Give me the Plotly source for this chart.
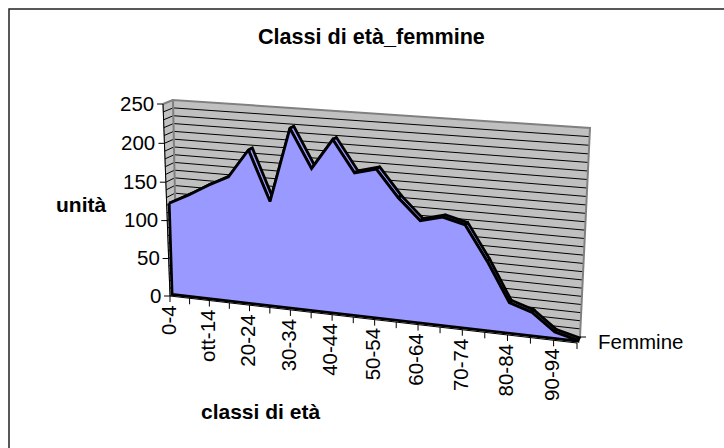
import numpy as np
import plotly.graph_objects as go

W, H = 724, 448
title = "Classi di età_femmine"
y_title = "unità"
x_title = "classi di età"
series_name = "Femmine"
categories = ["0-4", "5-9", "ott-14", "15-19", "20-24", "25-29", "30-34", "35-39", "40-44", "45-49",
              "50-54", "55-59", "60-64", "65-69", "70-74", "75-79", "80-84", "85-89", "90-94", "95-99"]
femmine = [121, 134, 149, 162, 198, 135, 229, 181, 219, 180, 187, 154, 128, 135, 128, 86, 38, 29, 8, 1]
y_ticks = [0, 50, 100, 150, 200, 250]
y_max = 250
grid_step = 10

def solve_h(src, dst):
    A, b = [], []
    for (u, v), (x, y) in zip(src, dst):
        A.append([u, v, 1, 0, 0, 0, -u * x, -v * x]); b.append(x)
        A.append([0, 0, 0, u, v, 1, -u * y, -v * y]); b.append(y)
    s = np.linalg.solve(np.array(A, float), np.array(b, float))
    return np.append(s, 1).reshape(3, 3)

unit = [(0, 0), (1, 0), (0, 1), (1, 1)]
FRONT = solve_h(unit, [(170, 296), (577, 343), (163, 104), (583, 133)])
BACK = solve_h(unit, [(177, 291), (580, 337), (173, 100), (590, 128)])
n = len(categories) - 1

def proj(i, val, depth=0.0):
    p = np.array([i / n, val / y_max, 1.0])
    a = FRONT @ p; a = a[:2] / a[2]
    b = BACK @ p; b = b[:2] / b[2]
    return tuple(a + (b - a) * depth)

fig = go.Figure()

def poly(pts, fill=None, line=None, width=1, closed=True):
    xs = [p[0] for p in pts]; ys = [p[1] for p in pts]
    if closed:
        xs.append(xs[0]); ys.append(ys[0])
    fig.add_trace(go.Scatter(x=xs, y=ys, mode="lines", fill="toself" if fill else None,
                             fillcolor=fill, line=dict(color=line or "rgba(0,0,0,0)", width=width),
                             hoverinfo="skip", showlegend=False))

wall = [proj(0, 0, 1), proj(n, 0, 1), proj(n, y_max, 1), proj(0, y_max, 1)]
side = [proj(0, 0, 0), proj(0, 0, 1), proj(0, y_max, 1), proj(0, y_max, 0)]
poly(side, "#C0C0C0", "#808080", 1)
poly(wall, "#C0C0C0", None, 1)
for g in range(grid_step, y_max, grid_step):
    poly([proj(0, g, 0), proj(0, g, 1), proj(n, g, 1)], None, "#000000", 1, closed=False)
poly([proj(0, 0, 1), proj(0, y_max, 1), proj(n, y_max, 1), proj(n, 0, 1)], None, "#808080", 2, closed=False)
poly([proj(0, y_max, 0), proj(0, y_max, 1)], None, "#808080", 2, closed=False)
poly([proj(0, 0), proj(0, y_max)], None, "#000000", 1, closed=False)
poly([proj(0, 0), proj(n, 0)], None, "#000000", 1, closed=False)

AREA_FRONT, AREA_BACK = 0.3, 0.75
for k in range(n):
    poly([proj(k, femmine[k], AREA_FRONT), proj(k + 1, femmine[k + 1], AREA_FRONT),
          proj(k + 1, femmine[k + 1], AREA_BACK), proj(k, femmine[k], AREA_BACK)], "#9999FF", "#000000", 2.8)
front = [proj(k, femmine[k], AREA_FRONT) for k in range(n + 1)] + [proj(n, 0, AREA_FRONT), proj(0, 0, AREA_FRONT)]
poly(front, "#9999FF", "#000000", 2.8)

def label(x, y, text, size=20.5, angle=0, xa="center", ya="middle"):
    fig.add_annotation(x=x, y=y, text=text, showarrow=False, textangle=angle, xanchor=xa, yanchor=ya,
                       font=dict(family="Liberation Sans", size=size, color="#000000"),
                       borderpad=0, borderwidth=0)

for t in y_ticks:
    p = proj(0, t)
    poly([p, (p[0] - 6, p[1])], None, "#000000", 1, closed=False)
    label(p[0] - 9, p[1] - 1, str(t), xa="right")
for k, c in enumerate(categories):
    p = proj(k, 0)
    poly([p, (p[0], p[1] + 6)], None, "#000000", 1, closed=False)
    if k % 2 == 0:
        label(p[0] - 2, p[1] + 9, c, angle=-90, ya="top")
p = proj(n, 0, 1)
poly([p, (p[0] + 6, p[1])], None, "#000000", 1, closed=False)
label(598, 341, series_name, xa="left")

label(371, 36, "<b>" + title + "</b>", size=21.6)
label(81, 204, "<b>" + y_title + "</b>", size=21)
label(260, 411, "<b>" + x_title + "</b>", size=21)

poly([(9, 448), (9, 9), (724, 9)], None, "#222222", 1.5, closed=False)

fig.update_layout(width=W, height=H, margin=dict(l=0, r=0, t=0, b=0), paper_bgcolor="#FFFFFF",
                  plot_bgcolor="#FFFFFF", showlegend=False,
                  xaxis=dict(range=[0, W], visible=False, fixedrange=True),
                  yaxis=dict(range=[H, 0], visible=False, fixedrange=True))
fig.write_html("out.html", config={"displayModeBar": False},
               post_script="document.body.style.margin='0';document.documentElement.style.overflow='hidden';")
